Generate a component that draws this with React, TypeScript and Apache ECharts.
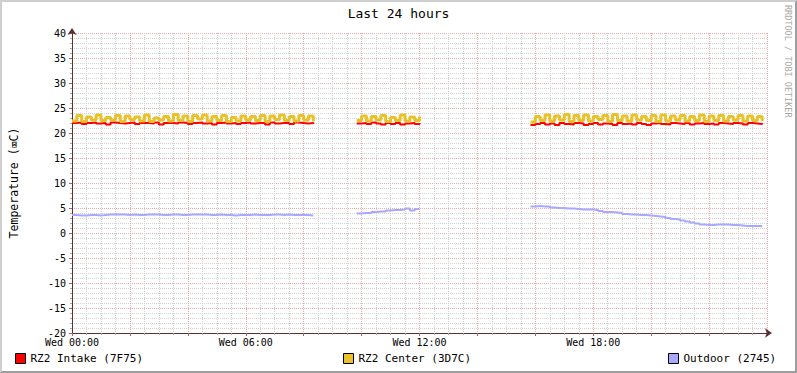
import React, { useEffect, useRef } from "react";
import * as echarts from "echarts";

// 10-minute slots, 6 per hour; each series is split into three recorded segments
const slotsPerHour = 6;
const segmentStartSlots = [0, 59, 95];

const seriesNames = ["RZ2 Intake (7F75)", "RZ2 Center (3D7C)", "Outdoor (2745)"];
const seriesColors = ["#ff0000", "#e9c229", "#a8a8ff"];
const seriesWidths = [2, 3, 2];

const intakeSeg1 = [
  22.0, 22.1, 21.8, 22.0, 22.1, 21.9, 22.0, 21.7, 22.1, 22.0,
  21.9, 22.0, 22.1, 21.8, 22.0, 22.0, 21.9, 22.1, 21.7, 22.0,
  22.0, 21.9, 22.1, 22.0, 21.8, 22.0, 22.1, 21.9, 22.0, 21.7,
  22.0, 22.1, 21.9, 22.0, 21.8, 22.0, 22.1, 21.9, 22.0, 22.0,
  21.7, 22.1, 21.9, 22.0, 22.0, 21.8, 22.1, 22.0, 21.9, 22.0,
  21.8,
];
const intakeSeg2 = [21.9, 22.0, 21.8, 22.1, 21.9, 21.7, 22.0, 21.8, 22.0, 21.7, 21.9, 22.0, 21.8, 22.0];
const intakeSeg3 = [
  21.6, 21.8, 22.0, 21.7, 21.9, 21.6, 22.0, 21.8, 21.7, 22.0,
  21.9, 21.6, 21.8, 22.0, 21.7, 21.9, 21.8, 21.6, 22.0, 21.8,
  21.9, 21.7, 22.0, 21.8, 21.6, 21.9, 22.0, 21.8, 21.7, 22.0,
  21.9, 21.8, 22.0, 21.7, 21.9, 22.0, 21.8, 21.9, 21.7, 22.0,
  21.9, 21.8, 22.0, 21.9, 21.7, 22.0, 21.9, 21.8, 22.0,
];

const centerSeg1 = [
  22.4, 23.5, 22.3, 23.2, 22.6, 23.6, 22.5, 23.1, 22.6, 23.5,
  22.3, 23.4, 22.7, 23.2, 22.4, 23.6, 22.3, 23.0, 22.6, 23.3,
  22.4, 23.7, 22.5, 23.4, 22.3, 23.5, 22.8, 23.6, 22.4, 23.3,
  22.5, 23.5, 22.3, 23.1, 22.4, 23.4, 22.6, 23.3, 22.5, 23.5,
  22.3, 23.4, 22.7, 23.6, 22.5, 23.3, 22.4, 23.5, 22.6, 23.4,
  22.3,
];
const centerSeg2 = [22.5, 23.4, 22.4, 23.3, 22.6, 23.5, 22.3, 23.1, 22.5, 23.6, 22.4, 23.2, 22.5, 23.3];
const centerSeg3 = [
  22.2, 23.3, 22.5, 23.6, 22.4, 23.4, 22.6, 23.7, 22.3, 23.5,
  22.5, 23.6, 22.4, 23.3, 22.7, 23.5, 22.3, 23.7, 22.5, 23.4,
  22.4, 23.6, 22.6, 23.3, 22.5, 23.5, 22.3, 23.6, 22.4, 23.4,
  22.6, 23.5, 22.4, 23.3, 22.5, 23.6, 22.3, 23.4, 22.5, 23.5,
  22.4, 23.3, 22.6, 23.5, 22.4, 23.4, 22.5, 23.3, 22.4,
];

const outdoorSeg1 = [
  3.6, 3.5, 3.5, 3.6, 3.6, 3.5, 3.6, 3.7, 3.7, 3.7,
  3.7, 3.6, 3.7, 3.6, 3.6, 3.7, 3.7, 3.7, 3.6, 3.6,
  3.7, 3.7, 3.6, 3.6, 3.7, 3.7, 3.7, 3.7, 3.6, 3.6,
  3.7, 3.6, 3.6, 3.5, 3.6, 3.6, 3.6, 3.7, 3.6, 3.6,
  3.6, 3.7, 3.7, 3.6, 3.7, 3.6, 3.6, 3.6, 3.6, 3.5,
  3.5,
];
const outdoorSeg2 = [3.9, 4.0, 4.0, 4.2, 4.3, 4.3, 4.5, 4.6, 4.6, 4.7, 4.9, 4.5, 4.8, 4.9];
const outdoorSeg3 = [
  5.3, 5.4, 5.3, 5.3, 5.1, 5.0, 5.0, 4.9, 4.9, 4.8,
  4.7, 4.7, 4.7, 4.6, 4.4, 4.2, 4.2, 4.1, 4.0, 3.8,
  3.7, 3.7, 3.6, 3.6, 3.5, 3.4, 3.3, 3.2, 3.0, 2.8,
  2.7, 2.5, 2.3, 2.1, 1.9, 1.7, 1.6, 1.6, 1.7, 1.7,
  1.7, 1.6, 1.6, 1.5, 1.4, 1.4, 1.4, 1.4, 1.4,
];

const seriesSegments = [
  [intakeSeg1, intakeSeg2, intakeSeg3],
  [centerSeg1, centerSeg2, centerSeg3],
  [outdoorSeg1, outdoorSeg2, outdoorSeg3],
];

const yMin = -20;
const yMax = 40;
const xMinHour = 0;
const xMaxHour = 24;
const dayLabel = "Wed";

const FONT = "DejaVu Sans Mono";

function segmentData(seg: number[], s: number) {
  const start = segmentStartSlots[s];
  return seg.map((v, i) => [(start + i) / slotsPerHour, v]);
}

export default function App() {
  const ref = useRef<HTMLDivElement>(null);

  useEffect(() => {
    if (!ref.current) return;
    const chart = echarts.init(ref.current, null, { renderer: "svg" });
    const legendLefts = [15, 343, 668];
    const series: any[] = [];
    seriesNames.forEach((n, i) => {
      seriesSegments[i].forEach((seg, s) => {
        series.push({
          name: n,
          type: "line",
          step: "end",
          showSymbol: false,
          symbol: "none",
          data: segmentData(seg, s),
          itemStyle: { color: seriesColors[i] },
          lineStyle: { color: seriesColors[i], width: seriesWidths[i] },
          z: 2 + i,
        });
      });
    });
    chart.setOption({
      animation: false,
      backgroundColor: "transparent",
      title: {
        text: "Last 24 hours",
        left: "center",
        top: 2,
        textStyle: { fontFamily: FONT, fontSize: 13, fontWeight: "normal", color: "#000" },
      },
      legend: seriesNames.map((n, i) => ({
        data: [n],
        left: legendLefts[i],
        top: 353,
        padding: 0,
        itemWidth: 10,
        itemHeight: 10,
        icon: "rect",
        selectedMode: false,
        itemStyle: { borderColor: "#000", borderWidth: 1 },
        textStyle: { fontFamily: FONT, fontSize: 11, color: "#000" },
      })),
      grid: { left: 67, top: 33, width: 700, height: 300 },
      xAxis: {
        type: "value",
        min: xMinHour,
        max: xMaxHour,
        interval: 2,
        axisLine: {
          show: true,
          onZero: false,
          symbol: ["none", "arrow"],
          symbolSize: [7, 7],
          symbolOffset: [0, 5],
          lineStyle: { color: "#5a3030", width: 1 },
        },
        axisTick: { show: true, length: 3, lineStyle: { color: "#b06060" } },
        minorTick: { show: true, splitNumber: 4, length: 2, lineStyle: { color: "#aaa" } },
        splitLine: { show: true, lineStyle: { color: "#e8aaaa", type: [1, 1], width: 1 } },
        minorSplitLine: { show: true, lineStyle: { color: "#d2d2d2", type: [1, 1], width: 1 } },
        axisLabel: {
          fontFamily: FONT,
          fontSize: 10,
          color: "#000",
          margin: 4,
          formatter: (v: number) =>
            v % 6 === 0 && v < 24 ? `${dayLabel} ${String(v).padStart(2, "0")}:00` : "",
        },
      },
      yAxis: {
        type: "value",
        min: yMin,
        max: yMax,
        interval: 5,
        name: "Temperature (⌧C)",
        nameLocation: "middle",
        nameGap: 52,
        nameTextStyle: { fontFamily: FONT, fontSize: 11.5, color: "#000" },
        axisLine: {
          show: true,
          onZero: false,
          symbol: ["none", "arrow"],
          symbolSize: [7, 7],
          symbolOffset: [0, 5],
          lineStyle: { color: "#5a3030", width: 1 },
        },
        axisTick: { show: true, length: 3, lineStyle: { color: "#b06060" } },
        minorTick: { show: true, splitNumber: 5, length: 2, lineStyle: { color: "#aaa" } },
        splitLine: { show: true, lineStyle: { color: "#e8aaaa", type: [1, 1], width: 1 } },
        minorSplitLine: { show: true, lineStyle: { color: "#d2d2d2", type: [1, 1], width: 1 } },
        axisLabel: { fontFamily: FONT, fontSize: 10, color: "#000", margin: 6 },
      },
      series,
      graphic: [
        {
          type: "text",
          x: 788,
          y: 5,
          rotation: -Math.PI / 2,
          style: {
            text: "RRDTOOL / TOBI OETIKER",
            fill: "#a8a8a8",
            font: `8.5px "${FONT}"`,
            textAlign: "left",
            textVerticalAlign: "middle",
          },
        },
      ],
    });
    return () => chart.dispose();
  }, []);

  return (
    <div style={{ position: "fixed", left: 0, top: 0, width: 797, height: 373, background: "#fff" }}>
      <div
        style={{
          position: "absolute",
          left: 0,
          top: 0,
          width: 797,
          height: 373,
          boxSizing: "border-box",
          borderTop: "2px solid #cfcfcf",
          borderLeft: "2px solid #cfcfcf",
          borderRight: "2px solid #9e9e9e",
          borderBottom: "2px solid #9e9e9e",
        }}
      />
      <div ref={ref} style={{ position: "absolute", left: 0, top: 0, width: 797, height: 373 }} />
    </div>
  );
}
